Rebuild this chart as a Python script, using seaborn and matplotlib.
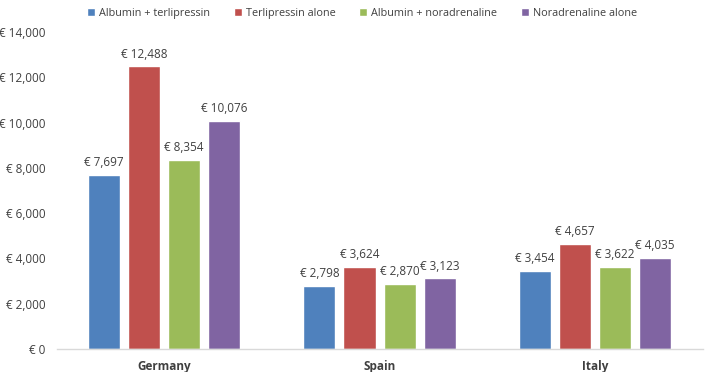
import seaborn as sns
import matplotlib.pyplot as plt
import pandas as pd

########################################################
# Data
########################################################
countries = ["Germany", "Spain", "Italy"]
treatments = ["Albumin + terlipressin", "Terlipressin alone",
              "Albumin + noradrenaline", "Noradrenaline alone"]
albumin_terlipressin = [7697, 2798, 3454]
terlipressin_alone = [12488, 3624, 4657]
albumin_noradrenaline = [8354, 2870, 3622]
noradrenaline_alone = [10076, 3123, 4035]
y_ticks = [0, 2000, 4000, 6000, 8000, 10000, 12000, 14000]

colors = ["#4F81BD", "#C0504D", "#9BBB59", "#8064A2"]

series = [albumin_terlipressin, terlipressin_alone,
          albumin_noradrenaline, noradrenaline_alone]
rows = []
for name, vals in zip(treatments, series):
    for c, v in zip(countries, vals):
        rows.append({"country": c, "treatment": name, "cost": v})
df = pd.DataFrame(rows)

########################################################
# Plot
########################################################
sns.set_style("white")
plt.rcParams['font.family'] = ['Open Sans', 'DejaVu Sans']

fig = plt.figure(figsize=(7.09, 3.72), dpi=100)
ax = fig.add_axes([0.0797, 0.0618, 0.9113, 0.8522])

sns.barplot(data=df, x="country", y="cost", hue="treatment",
            order=countries, hue_order=treatments, palette=colors,
            width=0.745, gap=0.2, saturation=1, ax=ax, legend=True)

# value labels
for cont in ax.containers:
    ax.bar_label(cont, labels=[f"€ {v:,.0f}" for v in cont.datavalues],
                 padding=4, fontsize=8.5, color="#404040")

ax.set_xlim(-0.5, 2.5)
ax.set_ylim(0, 14000)
ax.set_yticks(y_ticks)
ax.set_yticklabels([f"€ {v:,}" for v in y_ticks], fontsize=8.5, color="#404040")
ax.set_xticks(range(len(countries)))
ax.set_xticklabels(countries, fontsize=8.5, fontweight="bold", color="#404040")
ax.set_xlabel("")
ax.set_ylabel("")
ax.tick_params(axis="both", length=0, pad=8)

for s in ["top", "right", "left"]:
    ax.spines[s].set_visible(False)
ax.spines["bottom"].set_color("#D9D9D9")
ax.spines["bottom"].set_linewidth(1)

ax.legend(loc="lower center", bbox_to_anchor=(0.473, 1.01), ncol=4,
          frameon=False, fontsize=7.8, handlelength=0.75, handleheight=0.75,
          handletextpad=0.35, columnspacing=2.2, labelcolor="#404040")

plt.savefig("out.png", dpi=100)
